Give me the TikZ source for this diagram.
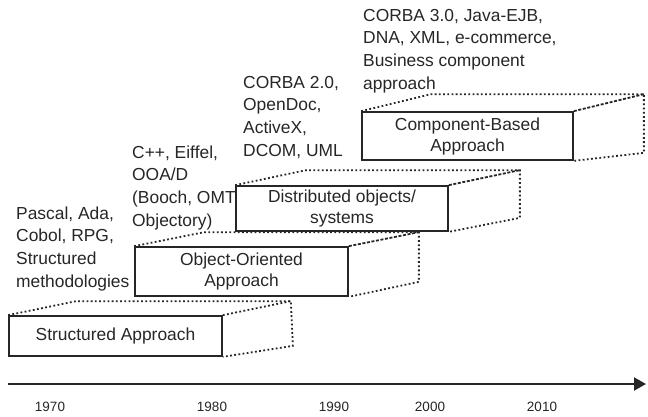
\documentclass[tikz,border=0pt]{standalone}
\usepackage{fontspec}
\setmainfont{Liberation Sans}
\usetikzlibrary{calc,arrows.meta}
\definecolor{ink}{gray}{0.15}
\tikzset{
  front/.style={draw=ink, line width=1.7pt, minimum width=#1, inner sep=0pt, align=center, text=ink, font=\fontsize{17.4}{21}\selectfont},
  dotline/.style={draw=ink, line width=1.8pt, dash pattern=on 1.8pt off 2.4pt},
  dashline/.style={draw=ink, line width=1.8pt, dash pattern=on 3pt off 1.6pt},
  lbl/.style={anchor=base west, inner sep=0pt, align=left, text=ink, font=\fontsize{17.4}{22.6}\selectfont},
  year/.style={inner sep=0pt, text=ink, font=\fontsize{13.5}{15}\selectfont}
}
\begin{document}
\begin{tikzpicture}[x=1pt,y=-1pt]
\useasboundingbox (0,0) rectangle (648,416);
% front faces
\node[front=213pt, minimum height=40pt] (b1) at (115.5,336) {Structured Approach};
\node[front=213pt, minimum height=49pt] (b2) at (241.5,271.5) {Object-Oriented\\Approach};
\node[front=212pt, minimum height=45pt] (b3) at (342,208.5) {Distributed objects/\\systems};
\node[front=211pt, minimum height=48pt] (b4) at (467.5,136) {Component-Based\\Approach};
% back corners
\coordinate (b1tl) at ($(b1.north west)+(68,-14)$);
\coordinate (b1tr) at ($(b1.north east)+(68,-14)$);
\coordinate (b1br) at ($(b1.south east)+(70,-11)$);
\coordinate (b2tl) at ($(b2.north west)+(70,-14)$);
\coordinate (b2tr) at ($(b2.north east)+(70,-14)$);
\coordinate (b2br) at ($(b2.south east)+(70,-15)$);
\coordinate (b3tl) at ($(b3.north west)+(71,-15)$);
\coordinate (b3tr) at ($(b3.north east)+(71,-15)$);
\coordinate (b3br) at ($(b3.south east)+(71,-14)$);
\coordinate (b4tl) at ($(b4.north west)+(70,-17)$);
\coordinate (b4tr) at ($(b4.north east)+(70,-17)$);
\coordinate (b4br) at ($(b4.south east)+(70,-8)$);
% box 1
\draw[dotline] (b1.north west) -- (b1tl) -- (b1tr) -- (b1br) -- (b1.south east);
\draw[dotline] (b1.north east) -- (b1tr);
% box 2
\draw[dotline] (b2.north west) -- (b2tl) -- (b2tr) -- (b2br) -- (b2.south east);
\draw[dashline] (b2.north east) -- (b2tr);
% box 3
\draw[dotline] (b3.north west) -- (b3tl) -- (b3tr) -- (b3br) -- (b3.south east);
\draw[dashline] (b3.north east) -- (b3tr);
% box 4
\draw[dotline] (b4.north west) -- (b4tl) -- (b4tr) -- (b4br) -- (b4.south east);
\draw[dashline] (b4.north east) -- (b4tr);
% labels (base anchor = baseline of last line)
\node[lbl] (t1) at (16,287) {Pascal, Ada,\\Cobol, RPG,\\Structured\\methodologies};
\node[lbl] (t2) at (132,226) {C++, Eiffel,\\OOA/D\\(Booch, OMT,\\Objectory)};
\node[lbl] (t3) at (243,156) {CORBA 2.0,\\OpenDoc,\\ActiveX,\\DCOM, UML};
\node[lbl] (t4) at (363,89) {CORBA 3.0, Java-EJB,\\DNA, XML, e-commerce,\\Business component\\approach};
% axis
\coordinate (axs) at (8,384);
\coordinate (axe) at (646,384);
\draw[draw=ink, line width=2pt, -{Triangle[length=12pt,width=13pt]}] (axs) -- (axe);
\node[year] (y1) at (50,407) {1970};
\node[year] (y2) at (212,407) {1980};
\node[year] (y3) at (334,407) {1990};
\node[year] (y4) at (430,407) {2000};
\node[year] (y5) at (542,407) {2010};
\end{tikzpicture}
\end{document}
